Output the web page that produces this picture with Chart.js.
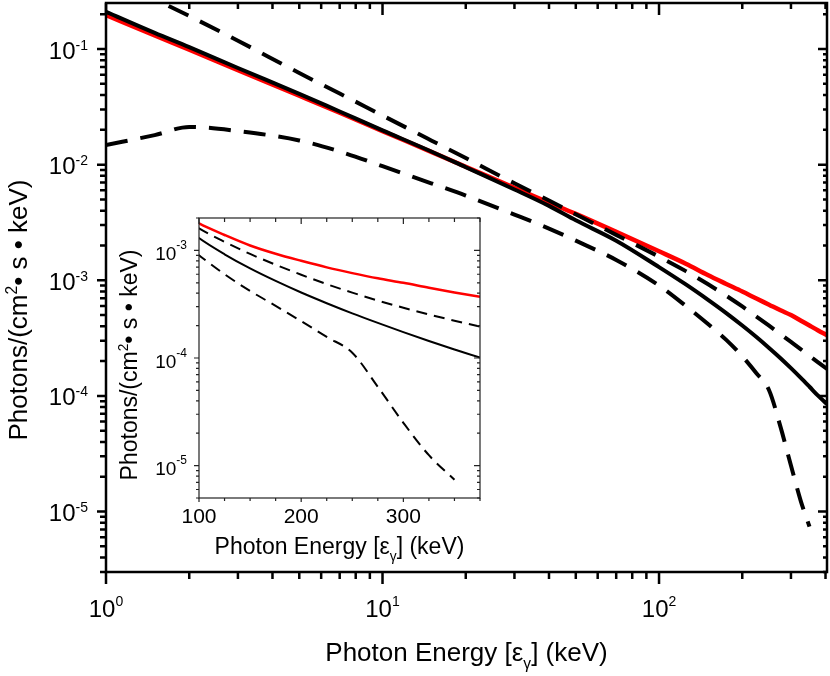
<!DOCTYPE html>
<html>
<head>
<meta charset="utf-8">
<script src="https://cdn.jsdelivr.net/npm/chart.js@4.4.1/dist/chart.umd.min.js"></script>
<style>
  html, body { margin: 0; padding: 0; background: #fff; }
  #wrap { position: relative; width: 830px; height: 676px; }
  #main { position: absolute; left: 0; top: 0; }
  #inset { position: absolute; left: 100px; top: 205px; }
</style>
</head>
<body>
<div id="wrap">
  <canvas id="main" width="830" height="676"></canvas>
  <canvas id="inset" width="390" height="365"></canvas>
</div>
<script>
// photon energy (keV)
const energy = [1, 1.5, 2, 3, 5, 7, 10, 15, 20, 30, 40, 50, 70, 100, 125, 150, 175, 200, 225, 250, 275, 300, 325, 350, 375, 405]

// photons / (cm2 s keV)
const fluxRed = [0.197, 0.131, 0.0985, 0.0656, 0.0394, 0.0281, 0.0195, 0.0129, 0.0096, 0.0063, 0.0047, 0.00375, 0.00262, 0.00178, 0.00139, 0.00111, 0.00093, 0.0008, 0.000695, 0.000615, 0.00055, 0.0005, 0.000449, 0.000406, 0.00037, 0.000335]
const fluxSolid = [0.21, 0.138, 0.104, 0.0685, 0.041, 0.0288, 0.0198, 0.013, 0.0095, 0.0061, 0.0044, 0.0033, 0.0022, 0.0013, 0.00092, 0.00068, 0.00052, 0.000406, 0.000323, 0.00026, 0.000212, 0.000174, 0.000144, 0.00012, 0.000101, 0.000085]
const fluxUpper = [0.44, 0.27, 0.193, 0.118, 0.062, 0.0412, 0.0266, 0.0162, 0.0114, 0.0069, 0.0049, 0.00372, 0.00247, 0.0016, 0.0012, 0.000927, 0.000736, 0.000594, 0.000486, 0.000405, 0.000342, 0.000293, 0.000254, 0.000222, 0.000196, 0.000171]
// lower curve stops near 350 keV
const fluxLower = [0.0148, 0.018, 0.0212, 0.0195, 0.0162, 0.013, 0.0097, 0.0069, 0.0054, 0.0037, 0.0028, 0.0022, 0.0015, 0.0009, 0.0006, 0.00042, 0.000305, 0.00022, 0.000157, 0.000112, 0.000054, 0.000025, 0.0000125, 0.0000074, null, null]

// tick labels
const mainXDecades = [1, 10, 100]
const mainYDecades = [1e-5, 1e-4, 1e-3, 1e-2, 1e-1]
const insetXTicks = [100, 200, 300]
const insetYDecades = [1e-5, 1e-4, 1e-3]

const FONT = '"Liberation Sans", Arial, Helvetica, sans-serif'

function pts( ys ) {
  return energy.map( ( x, i ) => ( { x, y: ys[ i ] } ) )
}

function makeSets( w, dash ) {
  return [
    { data: pts( fluxLower ), borderColor: '#000', borderWidth: w, borderDash: dash },
    { data: pts( fluxUpper ), borderColor: '#000', borderWidth: w, borderDash: dash },
    { data: pts( fluxSolid ), borderColor: '#000', borderWidth: w },
    { data: pts( fluxRed ), borderColor: '#ff0000', borderWidth: w + 0.5 }
  ]
}

const isDecade = v => Math.abs( Math.log10( v ) - Math.round( Math.log10( v ) ) ) < 1e-9

function logTicks( min, max ) {
  const out = []
  for ( let e = Math.floor( Math.log10( min ) ); e <= Math.ceil( Math.log10( max ) ); e++ ) {
    for ( let m = 1; m < 10; m++ ) {
      const v = m * Math.pow( 10, e )
      if ( v >= min * 0.999 && v <= max * 1.001 ) out.push( { v, major: isDecade( v ) } )
    }
  }
  return out
}

function drawPow( ctx, exp, x, y, align, f1, f2, rise ) {
  ctx.font = f1 + 'px ' + FONT
  const w1 = ctx.measureText( '10' ).width
  ctx.font = f2 + 'px ' + FONT
  const w2 = ctx.measureText( exp ).width
  const x0 = align === 'right' ? x - w1 - w2 : x - ( w1 + w2 ) / 2
  ctx.textAlign = 'left'
  ctx.textBaseline = 'alphabetic'
  ctx.font = f1 + 'px ' + FONT
  ctx.fillText( '10', x0, y )
  ctx.font = f2 + 'px ' + FONT
  ctx.fillText( exp, x0 + w1, y + rise )
}

function drawRich( ctx, parts, cx, cy, size, rotate ) {
  ctx.save()
  ctx.translate( cx, cy )
  if ( rotate ) ctx.rotate( -Math.PI / 2 )
  let total = 0
  const sized = parts.map( p => {
    const s = p.sup || p.sub ? size * 0.6 : size
    ctx.font = s + 'px ' + FONT
    const w = ctx.measureText( p.t ).width
    total += w
    return { ...p, s, w }
  } )
  let x = -total / 2
  ctx.textAlign = 'left'
  ctx.textBaseline = 'alphabetic'
  ctx.fillStyle = '#000'
  sized.forEach( p => {
    ctx.font = p.s + 'px ' + FONT
    const dy = p.sup ? -size * 0.38 : p.sub ? size * 0.3 : 0
    ctx.fillText( p.t, x, dy )
    x += p.w
  } )
  ctx.restore()
}

const yTitle = [ { t: 'Photons/(cm' }, { t: '2', sup: true }, { t: '• s • keV)' } ]
const xTitle = [ { t: 'Photon Energy [ε' }, { t: 'γ', sub: true }, { t: '] (keV)' } ]

// box, mirrored ticks, labels
function framePlugin( cfg ) {
  return {
    id: 'frame',
    afterDatasetsDraw( chart ) {
      const { ctx, chartArea: a, scales: { x, y } } = chart
      ctx.save()
      ctx.strokeStyle = cfg.color
      ctx.lineWidth = cfg.lw
      ctx.lineCap = 'butt'
      ctx.beginPath()
      cfg.xTicks.forEach( t => {
        const px = x.getPixelForValue( t.v )
        const b = t.major ? cfg.bottom[ 0 ] : cfg.bottom[ 1 ]
        const tp = t.major ? cfg.top[ 0 ] : cfg.top[ 1 ]
        ctx.moveTo( px, a.bottom ); ctx.lineTo( px, a.bottom + b )
        ctx.moveTo( px, a.top ); ctx.lineTo( px, a.top + tp )
      } )
      cfg.yTicks.forEach( t => {
        const py = y.getPixelForValue( t.v )
        const l = t.major ? cfg.left[ 0 ] : cfg.left[ 1 ]
        const r = t.major ? cfg.right[ 0 ] : cfg.right[ 1 ]
        ctx.moveTo( a.left, py ); ctx.lineTo( a.left - l, py )
        ctx.moveTo( a.right, py ); ctx.lineTo( a.right - r, py )
      } )
      ctx.stroke()
      ctx.strokeRect( a.left, a.top, a.right - a.left, a.bottom - a.top )
      ctx.fillStyle = '#000'
      cfg.labels( ctx, a, x, y )
      ctx.restore()
    }
  }
}

new Chart( document.getElementById( 'main' ), {
  type: 'line',
  data: { datasets: makeSets( 4, [ 22, 13 ] ) },
  options: {
    responsive: false,
    animation: false,
    layout: { padding: { top: 3, right: 3, left: 0, bottom: 0 } },
    elements: { point: { radius: 0 }, line: { cubicInterpolationMode: 'monotone', borderCapStyle: 'butt' } },
    plugins: { legend: { display: false }, tooltip: { enabled: false } },
    scales: {
      x: {
        type: 'logarithmic', min: 1, max: 405,
        grid: { display: false }, border: { display: false }, ticks: { display: false },
        afterFit: s => { s.height = 104 }
      },
      y: {
        type: 'logarithmic', min: 3e-6, max: 0.25,
        grid: { display: false }, border: { display: false }, ticks: { display: false },
        afterFit: s => { s.width = 106 }
      }
    }
  },
  plugins: [ framePlugin( {
    color: '#000', lw: 2.5,
    xTicks: logTicks( 1, 405 ), yTicks: logTicks( 3e-6, 0.25 ),
    bottom: [ 12, 7 ], top: [ 12, 6 ], left: [ 9, 6 ], right: [ 9, 4 ],
    labels( ctx, a, x, y ) {
      mainXDecades.forEach( v => drawPow( ctx, String( Math.round( Math.log10( v ) ) ), x.getPixelForValue( v ), 617, 'center', 24, 14, -11 ) )
      mainYDecades.forEach( v => drawPow( ctx, String( Math.round( Math.log10( v ) ) ), 88, y.getPixelForValue( v ) + 9.5, 'right', 24, 14, -9 ) )
      drawRich( ctx, xTitle, ( a.left + a.right ) / 2, 661, 26, false )
      drawRich( ctx, yTitle, 27, 310, 26, true )
    }
  } ) ]
} )

const insetXList = []
for ( let v = 100; v <= 375; v += 25 ) insetXList.push( { v, major: insetXTicks.includes( v ) } )

new Chart( document.getElementById( 'inset' ), {
  type: 'line',
  data: { datasets: makeSets( 2, [ 11, 7 ] ) },
  options: {
    responsive: false,
    animation: false,
    layout: { padding: { top: 13, right: 10, left: 0, bottom: 0 } },
    elements: { point: { radius: 0 }, line: { cubicInterpolationMode: 'monotone', borderCapStyle: 'butt' } },
    plugins: { legend: { display: false }, tooltip: { enabled: false } },
    scales: {
      x: {
        type: 'linear', min: 100, max: 375,
        grid: { display: false }, border: { display: false }, ticks: { display: false },
        afterFit: s => { s.height = 72 }
      },
      y: {
        type: 'logarithmic', min: 5e-6, max: 2e-3,
        grid: { display: false }, border: { display: false }, ticks: { display: false },
        afterFit: s => { s.width = 99 }
      }
    }
  },
  plugins: [ framePlugin( {
    color: '#222', lw: 1.2,
    xTicks: insetXList, yTicks: logTicks( 5e-6, 2e-3 ),
    bottom: [ 4, 3 ], top: [ 6, 4 ], left: [ 5, 3 ], right: [ 6, 3 ],
    labels( ctx, a, x, y ) {
      ctx.font = '21px ' + FONT
      ctx.textAlign = 'center'
      ctx.textBaseline = 'alphabetic'
      insetXTicks.forEach( v => ctx.fillText( String( v ), x.getPixelForValue( v ), 318 ) )
      insetYDecades.forEach( v => drawPow( ctx, String( Math.round( Math.log10( v ) ) ), 87, y.getPixelForValue( v ) + 9.5, 'right', 19, 12, -11 ) )
      drawRich( ctx, xTitle, ( a.left + a.right ) / 2, 349, 23, false )
      drawRich( ctx, yTitle, 37, 160, 23, true )
    }
  } ) ]
} )
</script>
</body>
</html>
